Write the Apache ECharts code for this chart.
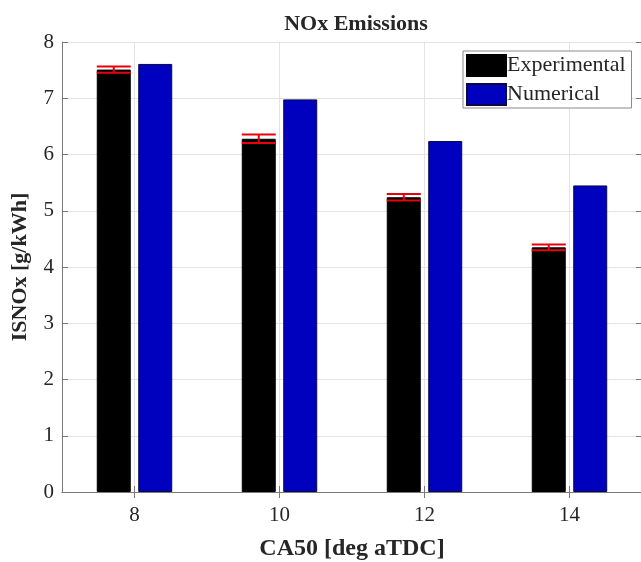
<!DOCTYPE html>
<html>
<head>
<meta charset="utf-8">
<script src="https://cdn.jsdelivr.net/npm/echarts@6/dist/echarts.min.js"></script>
<style>
  html, body { margin: 0; padding: 0; background: #fff; }
  #chart { width: 641px; height: 562px; }
</style>
</head>
<body>
<div id="chart"></div>
<script>
// CA50 timing points (deg aTDC)
const categories = ['8', '10', '12', '14'];
// Indicated specific NOx [g/kWh]
const experimental = [7.51, 6.28, 5.24, 4.35];
const experimentalError = [0.055, 0.075, 0.057, 0.05];
const numerical = [7.61, 6.98, 6.24, 5.45];
const yTicks = [0, 1, 2, 3, 4, 5, 6, 7, 8];

const FONT = '"Liberation Serif", "Times New Roman", serif';
const TEXT = '#262626';
const AXIS = '#7a7a7a';
const GRIDLINE = '#e3e3e3';
const BAR_W = 34;
const BAR_GAP = 0.22;

const chart = echarts.init(document.getElementById('chart'), null, { renderer: 'canvas' });

const errData = experimental.map((v, i) => [i, v, experimentalError[i]]);

const option = {
  animation: false,
  backgroundColor: '#fff',
  title: {
    text: 'NOx Emissions',
    left: 351,
    top: 8,
    textAlign: 'center',
    textStyle: { fontFamily: FONT, fontWeight: 'bold', fontSize: 22, color: TEXT }
  },
  legend: {
    data: ['Experimental', 'Numerical'],
    orient: 'vertical',
    left: 463,
    top: 51,
    icon: 'rect',
    itemWidth: 39,
    itemHeight: 21,
    itemGap: 6,
    padding: [3, 6, 2, 3],
    backgroundColor: '#fff',
    borderColor: '#8a8a8a',
    borderWidth: 1,
    textStyle: { fontFamily: FONT, fontSize: 22, color: TEXT, padding: [0, 0, 0, -4] }
  },
  grid: { left: 62, top: 42, right: -1, bottom: 70, containLabel: false, outerBoundsMode: 'none' },
  xAxis: [
    {
      type: 'category',
      data: categories,
      position: 'bottom',
      name: 'CA50 [deg aTDC]',
      nameLocation: 'middle',
      nameGap: 45,
      nameTextStyle: { fontFamily: FONT, fontWeight: 'bold', fontSize: 24, color: TEXT },
      axisLine: { lineStyle: { color: AXIS, width: 1 } },
      axisTick: { show: true, inside: true, length: 6, alignWithLabel: true, lineStyle: { color: AXIS } },
      axisLabel: { fontFamily: FONT, fontSize: 21, color: TEXT, margin: 13 },
      splitLine: { show: true, alignWithLabel: true, lineStyle: { color: GRIDLINE } }
    },
    {
      type: 'category',
      data: categories,
      position: 'top',
      axisLine: { lineStyle: { color: AXIS, width: 1 } },
      axisTick: { show: true, inside: true, length: 6, alignWithLabel: true, lineStyle: { color: AXIS } },
      axisLabel: { show: false },
      splitLine: { show: false }
    }
  ],
  yAxis: [
    {
      type: 'value',
      min: 0,
      max: 8,
      interval: 1,
      name: 'ISNOx [g/kWh]',
      nameLocation: 'middle',
      nameGap: 31,
      nameTextStyle: { fontFamily: FONT, fontWeight: 'bold', fontSize: 22, color: TEXT },
      axisLine: { show: true, lineStyle: { color: AXIS, width: 1 } },
      axisTick: { show: true, inside: true, length: 6, lineStyle: { color: AXIS } },
      axisLabel: {
        fontFamily: FONT, fontSize: 21, color: TEXT, margin: 8,
        formatter: v => (yTicks.includes(v) ? String(v) : '')
      },
      splitLine: { show: true, lineStyle: { color: GRIDLINE } }
    },
    {
      type: 'value',
      min: 0,
      max: 8,
      interval: 1,
      position: 'right',
      axisLine: { show: true, lineStyle: { color: AXIS, width: 1 } },
      axisTick: { show: true, inside: true, length: 6, lineStyle: { color: AXIS } },
      axisLabel: { show: false },
      splitLine: { show: false }
    }
  ],
  series: [
    {
      name: 'Experimental',
      type: 'bar',
      data: experimental,
      barWidth: BAR_W,
      barGap: (BAR_GAP * 100) + '%',
      itemStyle: { color: '#000000', borderColor: '#000000', borderWidth: 1 }
    },
    {
      name: 'Numerical',
      type: 'bar',
      data: numerical,
      barWidth: BAR_W,
      itemStyle: { color: '#0000bf', borderColor: '#0a0a40', borderWidth: 1 }
    },
    {
      name: 'Experimental error',
      type: 'custom',
      data: errData,
      encode: { x: 0, y: 1 },
      z: 5,
      renderItem: function (params, api) {
        const i = api.value(0);
        const v = api.value(1);
        const e = api.value(2);
        const offset = -(BAR_W + BAR_W * BAR_GAP) / 2;
        const hi = api.coord([i, v + e]);
        const lo = api.coord([i, v - e]);
        const cx = hi[0] + offset;
        const half = BAR_W / 2;
        const style = { stroke: '#e8000b', lineWidth: 2 };
        return {
          type: 'group',
          children: [
            { type: 'line', shape: { x1: cx - half, y1: hi[1], x2: cx + half, y2: hi[1] }, style },
            { type: 'line', shape: { x1: cx - half, y1: lo[1], x2: cx + half, y2: lo[1] }, style },
            { type: 'line', shape: { x1: cx, y1: hi[1], x2: cx, y2: lo[1] }, style }
          ]
        };
      }
    }
  ]
};

chart.setOption(option);
</script>
</body>
</html>
